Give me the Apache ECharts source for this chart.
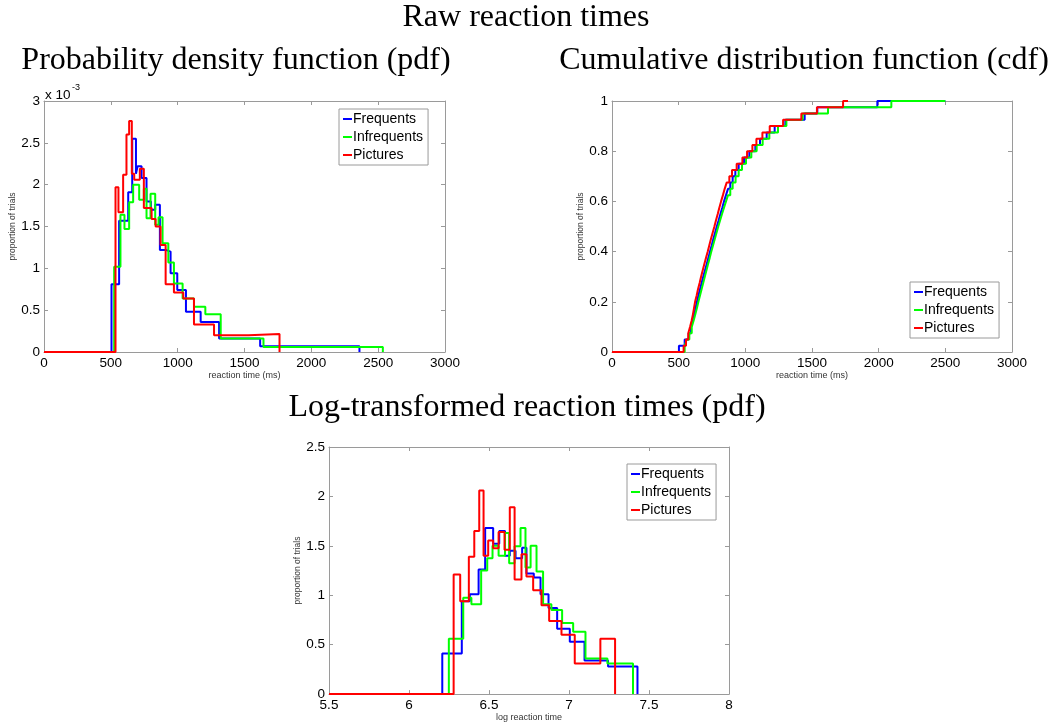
<!DOCTYPE html>
<html><head><meta charset="utf-8">
<script src="https://cdn.jsdelivr.net/npm/echarts@6/dist/echarts.min.js"></script>
<style>html,body{margin:0;padding:0;background:#fff}#c{width:1052px;height:723px}</style>
</head><body><div id="c"></div>
<script>
const seriesNames = ['Frequents', 'Infrequents', 'Pictures'];
const seriesColors = ['#0000ff', '#00ff00', '#ff0000'];

// Raw pdf (values in units of 1e-3), bin left edges + heights
const pdfFreqX = [0,505,562,630,660,688,700,730,767,800,832,867,910,947,997,1062,1172,1310,1617,2360];
const pdfFreqY = [0,0.81,1.57,1.91,2.55,2.13,2.22,2.08,1.80,1.70,1.76,1.22,1.20,0.94,0.74,0.48,0.36,0.16,0.07,0];
const pdfInfX  = [0,525,572,602,637,667,712,747,767,797,832,857,887,930,972,1037,1122,1207,1322,1642,2535];
const pdfInfY  = [0,1.02,1.64,1.47,1.79,2.00,1.82,1.95,1.60,1.89,1.52,1.61,1.30,1.07,0.82,0.64,0.54,0.45,0.16,0.06,0];
const pdfPicX  = [0,535,557,592,617,637,657,675,717,747,805,835,872,910,972,1042,1122,1272,1530,1762];
const pdfPicY  = [0,1.97,1.67,2.12,2.60,2.76,2.13,2.06,2.19,1.72,1.59,1.50,1.28,0.81,0.71,0.64,0.33,0.20,0.215,0];

// Raw cdf: step positions (ms) and cumulative levels
const cdfLevels = [0.025,0.05,0.075,0.1,0.125,0.15,0.175,0.2,0.225,0.25,0.275,0.3,0.325,0.35,0.375,0.4,0.425,0.45,0.475,0.5,0.525,0.55,0.575,0.6,0.625,0.65,0.675,0.7,0.725,0.75,0.775,0.8,0.825,0.85,0.875,0.9,0.925,0.95,0.975,1.0];
const cdfFreqX = [502,545,575,592,605,617,627,637,648,660,672,684,697,710,723,735,748,760,773,786,800,813,827,840,855,870,887,905,925,950,990,1030,1075,1110,1160,1220,1300,1445,1540,1990];
const cdfInfX  = [545,560,580,598,612,625,637,648,660,672,684,696,708,720,733,745,758,771,784,797,811,825,840,855,870,887,905,927,950,975,1005,1045,1085,1130,1180,1245,1308,1430,1620,2095];
const cdfPicX  = [537,555,572,585,597,607,615,623,635,645,657,668,680,692,705,718,730,742,755,768,780,793,805,818,832,845,860,880,900,935,978,1013,1053,1083,1128,1183,1283,1420,1537,1733];
const cdfEnds  = [2500, 2500, 1770];

// Log-transformed pdf
const logFreqX = [5.5,6.208,6.33,6.38,6.435,6.476,6.526,6.564,6.60,6.63,6.666,6.707,6.734,6.78,6.822,6.872,6.926,7.005,7.097,7.244,7.428];
const logFreqY = [0,0.41,0.94,1.01,1.26,1.68,1.52,1.65,1.40,1.45,1.375,1.48,1.22,1.18,1.01,0.87,0.66,0.53,0.34,0.28,0];
const logInfX  = [5.5,6.249,6.339,6.39,6.451,6.489,6.522,6.56,6.60,6.626,6.66,6.697,6.728,6.76,6.797,6.838,6.89,6.957,7.026,7.103,7.24,7.40];
const logInfY  = [0,0.56,0.975,0.91,1.25,1.375,1.50,1.40,1.63,1.325,1.495,1.68,1.28,1.50,1.24,0.91,0.85,0.72,0.63,0.36,0.31,0];
const logPicX  = [5.5,6.279,6.32,6.374,6.408,6.439,6.466,6.495,6.526,6.56,6.597,6.63,6.66,6.703,6.734,6.776,6.828,6.876,6.953,7.036,7.196,7.288];
const logPicY  = [0,1.21,0.94,1.39,1.65,2.06,1.40,1.555,1.475,1.64,1.46,1.89,1.16,1.415,1.19,1.05,0.90,0.74,0.60,0.31,0.56,0];

const titles = ['Raw reaction times','Probability density function (pdf)','Cumulative distribution function (cdf)','Log-transformed reaction times (pdf)'];
const xNames = ['reaction time (ms)','reaction time (ms)','log reaction time'];
const yName = 'proportion of trials';

const zip = (xs, ys) => xs.map((x, i) => [x, ys[i]]);
const cdfData = (xs, end) => [[0, 0]].concat(zip(xs, cdfLevels)).concat([[end, 1]]);

const SANS = '"Liberation Sans", Arial, sans-serif';
const SERIF = '"Liberation Serif", "Times New Roman", serif';
const boxColor = '#9a9a9a';

const grids = [
  {left: 44, top: 101, width: 401, height: 251},
  {left: 612, top: 101, width: 400, height: 251},
  {left: 329, top: 447, width: 400, height: 251}
];
const ranges = [
  {x: [0, 3000, 500], y: [0, 3, 0.5]},
  {x: [0, 3000, 500], y: [0, 1, 0.2]},
  {x: [5.5, 8, 0.5], y: [0, 2.5, 0.5]}
];

const xAxes = [], yAxes = [];
ranges.forEach((r, g) => {
  const common = (isX, main) => ({
    gridIndex: g,
    type: 'value',
    min: isX ? r.x[0] : r.y[0],
    max: isX ? r.x[1] : r.y[1],
    interval: isX ? r.x[2] : r.y[2],
    axisLine: {show: true, onZero: false, lineStyle: {color: boxColor, width: 1}},
    axisTick: {show: true, inside: true, length: 4, lineStyle: {color: boxColor}},
    splitLine: {show: false},
    axisLabel: main ? {show: true, color: '#000', fontFamily: SANS, fontSize: 13.5, margin: 4,
                       formatter: v => String(+v.toFixed(4))} : {show: false}
  });
  xAxes.push(Object.assign(common(true, true), {
    position: 'bottom', name: xNames[g], nameLocation: 'middle', nameGap: g === 2 ? 18 : 18,
    nameTextStyle: {color: '#333', fontFamily: SANS, fontSize: 9}
  }));
  xAxes.push(Object.assign(common(true, false), {position: 'top'}));
  yAxes.push(Object.assign(common(false, true), {
    position: 'left', name: yName, nameLocation: 'middle', nameGap: 22,
    nameTextStyle: {color: '#333', fontFamily: SANS, fontSize: 8.5}
  }));
  yAxes.push(Object.assign(common(false, false), {position: 'right'}));
});

const datasets = [
  [zip(pdfFreqX, pdfFreqY), zip(pdfInfX, pdfInfY), zip(pdfPicX, pdfPicY)],
  [cdfData(cdfFreqX, cdfEnds[0]), cdfData(cdfInfX, cdfEnds[1]), cdfData(cdfPicX, cdfEnds[2])],
  [zip(logFreqX, logFreqY), zip(logInfX, logInfY), zip(logPicX, logPicY)]
];

const series = [];
datasets.forEach((ds, g) => {
  ds.forEach((d, k) => {
    series.push({
      name: seriesNames[k], type: 'line', step: 'end', data: d,
      xAxisIndex: 2 * g, yAxisIndex: 2 * g,
      symbol: 'none', showSymbol: false, color: seriesColors[k],
      lineStyle: {width: 2, color: seriesColors[k]}, z: 2 + k, animation: false
    });
  });
});

const legendPos = [{left: 339, top: 109}, {left: 910, top: 282}, {left: 627, top: 464}];
const legends = legendPos.map(p => ({
  left: p.left, top: p.top, orient: 'vertical', data: seriesNames,
  backgroundColor: '#fff', borderColor: boxColor, borderWidth: 1,
  padding: [3, 5, 3, 4], itemGap: 4, itemWidth: 9, itemHeight: 2, icon: 'rect',
  textStyle: {color: '#000', fontFamily: SANS, fontSize: 14, padding: [0, 0, 0, -4]},
  selectedMode: false
}));

const tStyle = t => ({text: t, fontFamily: SERIF, fontSize: 32, fill: '#000', align: 'center', verticalAlign: 'middle'});
const graphic = [
  {type: 'text', x: 526, y: 18, style: tStyle(titles[0])},
  {type: 'text', x: 236, y: 61, style: tStyle(titles[1])},
  {type: 'text', x: 804, y: 61, style: tStyle(titles[2])},
  {type: 'text', x: 527, y: 408, style: tStyle(titles[3])},
  {type: 'text', x: 45, y: 95, style: {text: 'x 10', fontFamily: SANS, fontSize: 13.5, fill: '#000', align: 'left', verticalAlign: 'middle'}},
  {type: 'text', x: 72, y: 88, style: {text: '-3', fontFamily: SANS, fontSize: 9, fill: '#000', align: 'left', verticalAlign: 'middle'}}
];

const chart = echarts.init(document.getElementById('c'), null, {renderer: 'canvas'});
chart.setOption({
  backgroundColor: '#fff',
  animation: false,
  grid: grids,
  xAxis: xAxes,
  yAxis: yAxes,
  legend: legends,
  series: series,
  graphic: graphic
});
</script></body></html>
